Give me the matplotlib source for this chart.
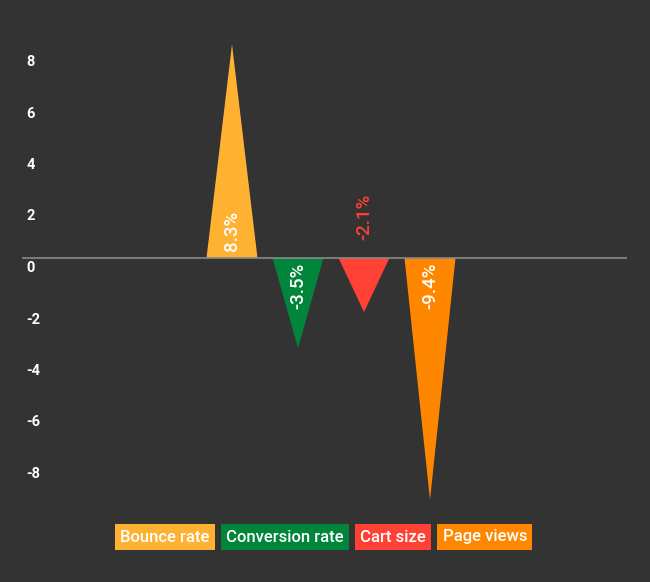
import matplotlib
matplotlib.use("Agg")
import matplotlib.pyplot as plt
from matplotlib import font_manager
from matplotlib.transforms import offset_copy

categories = ["Bounce rate", "Conversion rate", "Cart size", "Page views"]
values = [8.3, -3.5, -2.1, -9.4]
labels = ["8.3%", "-3.5%", "-2.1%", "-9.4%"]
colors = ["#FFB131", "#00853A", "#FF4136", "#FF8700"]
label_inside = [True, True, False, True]
yticks = [-8, -6, -4, -2, 0, 2, 4, 6, 8]

names = {f.name for f in font_manager.fontManager.ttflist}
fam = [n for n in ["Liberation Sans Narrow", "Roboto", "DejaVu Sans"] if n in names]
plt.rcParams["font.family"] = fam

BG = "#333333"
fig = plt.figure(figsize=(6.5, 5.82), dpi=100, facecolor=BG)
W, H = 650, 582
ax = fig.add_axes([22 / W, (H - 510) / H, (627 - 22) / W, (510 - 30) / H])
ax.set_facecolor(BG)

slot = 66.0
width = 51.0 / slot
xs = list(range(len(categories)))
for x, v, c in zip(xs, values, colors):
    ax.fill([x - width / 2, x + width / 2, x], [0, 0, v], color=c, lw=0, zorder=2)

ax.axhline(0, color="#8a8a8a", lw=1.2, zorder=3)

ax.set_xlim(-(232 - 22) / slot, 3 + (627 - 430) / slot)
ppu = 25.75
ax.set_ylim(-(510 - 258) / ppu, (258 - 30) / ppu)

for x, v, lab, c, ins in zip(xs, values, labels, colors, label_inside):
    if ins:
        if v > 0:
            tr = offset_copy(ax.transData, fig=fig, x=0, y=7, units="dots")
            va = "bottom"
        else:
            tr = offset_copy(ax.transData, fig=fig, x=0, y=-5, units="dots")
            va = "top"
        ax.text(x, 0, lab, rotation=90, ha="center", va=va, color="white",
                fontsize=13.5, fontweight="medium", transform=tr, zorder=4)
    else:
        tr = offset_copy(ax.transData, fig=fig, x=0, y=18, units="dots")
        ax.text(x, 0, lab, rotation=90, ha="center", va="bottom", color=c,
                fontsize=13.5, fontweight="medium", transform=tr, zorder=4)

ax.set_xticks([])
ax.set_yticks(yticks)
ax.set_yticklabels([str(t) for t in yticks])
ax.tick_params(axis="y", length=0, pad=-3, labelcolor="white", labelsize=10.5)
for t in ax.get_yticklabels():
    t.set_horizontalalignment("left")
    t.set_verticalalignment("top")
    t.set_fontweight("bold")
    t.set_transform(t.get_transform() + matplotlib.transforms.ScaledTranslation(0, -3 / 100, fig.dpi_scale_trans))
for s in ax.spines.values():
    s.set_visible(False)

# legend as colored boxes with white text, centered at bottom
texts = []
for cat, c in zip(categories, colors):
    t = fig.text(0, 1 - 537 / H, cat, color="white", fontsize=12, fontweight="medium",
                 ha="left", va="center",
                 bbox=dict(boxstyle="square,pad=0.32", fc=c, ec="none"))
    texts.append(t)
fig.canvas.draw()
r = fig.canvas.get_renderer()
gap = 6
widths = [t.get_bbox_patch().get_window_extent(r).width for t in texts]
pads = [(t.get_bbox_patch().get_window_extent(r).width - t.get_window_extent(r).width) / 2 for t in texts]
total = sum(widths) + gap * (len(widths) - 1)
cx = (117 + 530) / 2
xcur = cx - total / 2
for t, w, p in zip(texts, widths, pads):
    t.set_x((xcur + p) / W)
    xcur += w + gap

fig.savefig("out.png", dpi=100, facecolor=BG)
